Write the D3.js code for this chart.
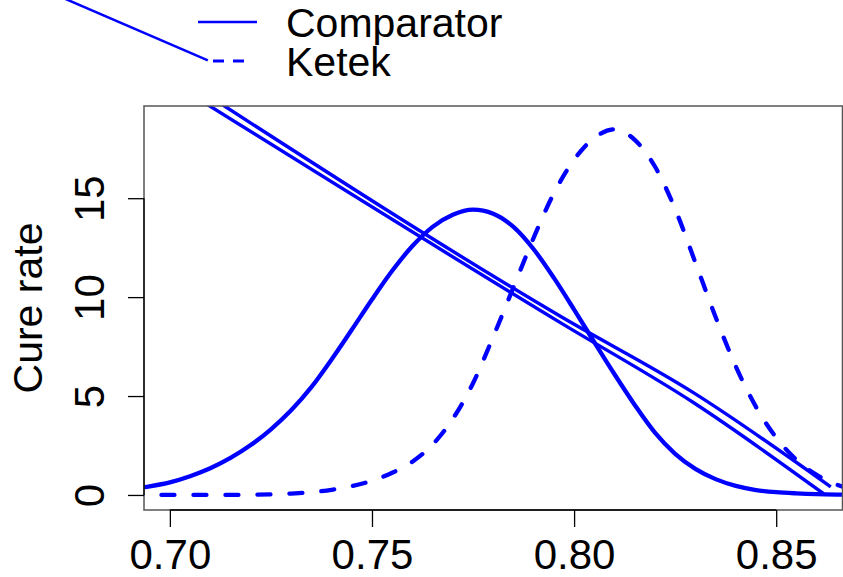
<!DOCTYPE html>
<html>
<head>
<meta charset="utf-8">
<script src="https://cdn.jsdelivr.net/npm/d3@7"></script>
<style>
  body { margin: 0; background: #fff; }
  svg { display: block; font-family: "Liberation Sans", Arial, sans-serif; }
</style>
</head>
<body>
<svg id="chart" width="843" height="577"></svg>
<script>
// values
const gridX = [0.690, 0.695, 0.700, 0.705, 0.710, 0.715, 0.720, 0.725, 0.730, 0.735, 0.740, 0.745, 0.750, 0.755, 0.760, 0.765, 0.770, 0.775, 0.780, 0.785, 0.790, 0.795, 0.800, 0.805, 0.810, 0.815, 0.820, 0.825, 0.830, 0.835, 0.840, 0.845, 0.850, 0.855, 0.860, 0.865, 0.870];
const comparatorY = [0.30, 0.44, 0.64, 0.95, 1.35, 1.87, 2.52, 3.32, 4.28, 5.45, 6.85, 8.35, 9.88, 11.33, 12.58, 13.55, 14.16, 14.42, 14.22, 13.55, 12.42, 10.97, 9.37, 7.72, 6.10, 4.55, 3.15, 2.08, 1.32, 0.80, 0.46, 0.25, 0.14, 0.08, 0.04, 0.02, 0.01];
const ketekY = [0.00, 0.00, 0.00, 0.00, 0.00, 0.00, 0.01, 0.03, 0.07, 0.14, 0.26, 0.45, 0.72, 1.12, 1.68, 2.55, 3.85, 5.65, 8.00, 10.50, 13.00, 15.25, 16.95, 18.05, 18.48, 17.95, 16.60, 14.45, 11.75, 9.00, 6.50, 4.45, 2.90, 1.78, 1.02, 0.52, 0.24];

// the two near-straight strokes crossing the panel
const upperLineX = [0.7109, 0.7966, 0.8296, 0.8635];
const upperLineY = [20.00, 9.03, 5.16, 0.41];
const lowerLineX = [0.7072, 0.7966, 0.8296, 0.8618];
const lowerLineY = [20.00, 8.71, 4.66, 0.05];

// stray stroke up in the legend area
const strayLineX = [0.6727, 0.7094];
const strayLineY = [25.20, 21.97];

const xTicks = [0.70, 0.75, 0.80, 0.85];
const yTicks = [0, 5, 10, 15];
const seriesNames = ["Comparator", "Ketek"];

const blue = "#0000ff";
const fontSize = 41;
const plot = { left: 144, right: 842.5, top: 106, bottom: 510 };

const svg = d3.select("#chart");

const x = d3.scaleLinear().domain([0.6936, 0.8664]).range([plot.left, plot.right]);
const y = d3.scaleLinear().domain([-0.76, 19.66]).range([plot.bottom, plot.top]);

svg.append("clipPath").attr("id", "clip")
  .append("rect")
  .attr("x", plot.left).attr("y", plot.top)
  .attr("width", plot.right - plot.left).attr("height", plot.bottom - plot.top);

const zip = (xs, ys) => xs.map((v, i) => [v, ys[i]]);
const line = d3.line().x(d => x(d[0])).y(d => y(d[1])).curve(d3.curveMonotoneX);

const marks = svg.append("g").attr("clip-path", "url(#clip)");

marks.append("path")
  .attr("d", line(zip(upperLineX, upperLineY)))
  .attr("fill", "none").attr("stroke", blue).attr("stroke-width", 3.4);
marks.append("path")
  .attr("d", line(zip(lowerLineX, lowerLineY)))
  .attr("fill", "none").attr("stroke", blue).attr("stroke-width", 3.4);

marks.append("path")
  .attr("d", line(zip(gridX, comparatorY)))
  .attr("fill", "none").attr("stroke", blue).attr("stroke-width", 4.3)
  .attr("stroke-linejoin", "round");

marks.append("path")
  .attr("d", line(zip(gridX, ketekY)))
  .attr("fill", "none").attr("stroke", blue).attr("stroke-width", 4.3)
  .attr("stroke-linecap", "round")
  .attr("stroke-dasharray", "13 19");

// stray stroke, not clipped
svg.append("path")
  .attr("d", d3.line().x(d => x(d[0])).y(d => y(d[1]))(zip(strayLineX, strayLineY)))
  .attr("fill", "none").attr("stroke", blue).attr("stroke-width", 2.5);

// plot frame
svg.append("rect")
  .attr("x", plot.left).attr("y", plot.top)
  .attr("width", plot.right - plot.left).attr("height", plot.bottom - plot.top)
  .attr("fill", "none").attr("stroke", "#555").attr("stroke-width", 1.5);

// x axis
const gx = svg.append("g")
  .attr("transform", "translate(0," + plot.bottom + ")")
  .call(d3.axisBottom(x).tickValues(xTicks).tickSize(17).tickFormat(d3.format(".2f")));
gx.select(".domain").attr("d", "M" + x(xTicks[0]) + ",0H" + x(xTicks[xTicks.length - 1]))
  .attr("stroke", "#000").attr("stroke-width", 1.3);
gx.selectAll(".tick line").attr("stroke", "#000").attr("stroke-width", 1.3);
gx.selectAll(".tick text")
  .attr("y", 59).attr("dy", 0)
  .attr("fill", "#000")
  .style("font-size", "42px")
  .style("font-family", "'Liberation Sans', Arial, sans-serif");

// y axis
const gy = svg.append("g")
  .attr("transform", "translate(" + plot.left + ",0)")
  .call(d3.axisLeft(y).tickValues(yTicks).tickSize(16));
gy.select(".domain").attr("d", "M0," + y(yTicks[0]) + "V" + y(yTicks[yTicks.length - 1]))
  .attr("stroke", "#000").attr("stroke-width", 1.3);
gy.selectAll(".tick line").attr("stroke", "#000").attr("stroke-width", 1.3);
gy.selectAll(".tick text")
  .attr("transform", "rotate(-90)")
  .attr("x", 0).attr("y", -40).attr("dy", 0)
  .attr("text-anchor", "middle")
  .attr("fill", "#000")
  .style("font-size", "42px")
  .style("font-family", "'Liberation Sans', Arial, sans-serif");

svg.append("text")
  .attr("transform", "translate(42," + ((plot.top + plot.bottom) / 2) + ") rotate(-90)")
  .attr("text-anchor", "middle")
  .attr("fill", "#000")
  .style("font-size", fontSize + "px")
  .text("Cure rate");

// legend
const legend = svg.append("g");
const legendRows = [22, 61];
seriesNames.forEach((name, i) => {
  legend.append("line")
    .attr("x1", i === 0 ? 198 : 213).attr("x2", i === 0 ? 257 : 253)
    .attr("y1", legendRows[i]).attr("y2", legendRows[i])
    .attr("stroke", blue).attr("stroke-width", i === 0 ? 2.5 : 3)
    .attr("stroke-dasharray", i === 0 ? null : "11 9");
  legend.append("text")
    .attr("x", 286).attr("y", legendRows[i] + 15)
    .attr("fill", "#000")
    .style("font-size", fontSize + "px")
    .text(name);
});
</script>
</body>
</html>
